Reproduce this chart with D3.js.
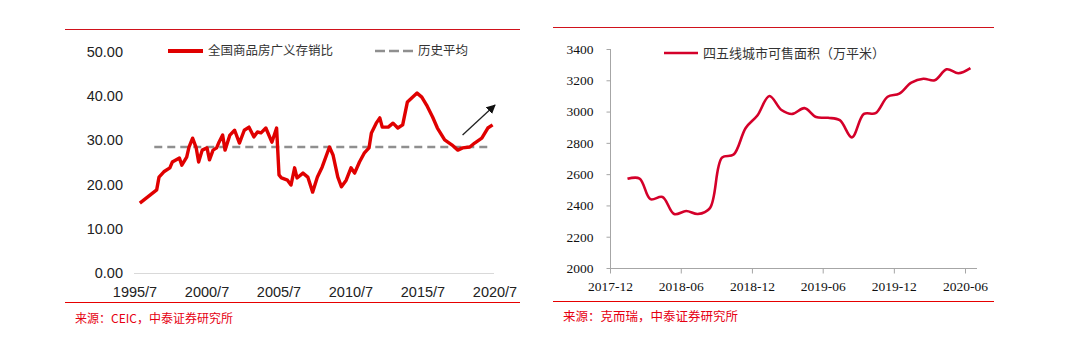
<!DOCTYPE html>
<html><head><meta charset="utf-8">
<script src="https://cdn.jsdelivr.net/npm/d3@7"></script>
<style>
html,body{margin:0;padding:0;background:#fff;}
svg{display:block;}
.narrow{font-family:"Liberation Sans Narrow","Arial Narrow","Liberation Sans",sans-serif;font-stretch:condensed;}
.serif{font-family:"Liberation Serif","DejaVu Serif",serif;}
.cjk{font-family:"Noto Sans CJK SC",sans-serif;}
</style></head>
<body>
<svg id="c" width="1079" height="347"></svg>
<script>
// ---------- Left chart data ----------
const leftDates = ["1995-11","1997-01","1997-03","1997-07","1997-12","1998-02","1998-08","1998-10","1999-02","1999-04","1999-07","1999-10","1999-12","2000-03","2000-07","2000-09","2000-12","2001-03","2001-05","2001-08","2001-10","2002-02","2002-06","2002-10","2003-02","2003-06","2003-10","2004-01","2004-04","2004-08","2005-01","2005-05","2005-07","2005-09","2006-02","2006-05","2006-08","2006-10","2007-03","2007-07","2007-11","2008-03","2008-07","2009-01","2009-04","2009-08","2009-11","2010-03","2010-07","2010-10","2011-02","2011-06","2011-10","2011-12","2012-04","2012-07","2012-09","2013-02","2013-06","2013-10","2014-02","2014-06","2015-02","2015-06","2015-10","2016-03","2016-07","2017-01","2017-07","2017-12","2018-04","2018-10","2019-02","2019-08","2020-01","2020-05"];
const leftValues = [15.8,18.8,21.7,22.9,23.8,25.1,26.0,24.4,26.2,28.5,30.5,28.3,25.1,27.8,28.3,25.6,27.8,28.3,29.6,31.2,27.8,31.2,32.3,29.4,32.3,33.0,30.8,31.9,31.7,32.8,29.6,32.8,22.2,21.5,21.0,19.9,23.8,21.5,22.6,21.7,18.3,21.7,24.0,28.5,26.7,21.7,19.5,21.0,23.8,22.6,25.1,27.1,28.3,31.7,33.9,35.1,33.0,33.0,33.9,32.8,33.5,38.7,40.7,39.8,38.0,35.3,32.8,30.1,29.0,27.8,28.3,28.5,29.4,30.5,32.8,33.5];
const leftAverage = 28.5;
const leftAvgRange = ["1996-11","2020-04"];
const leftYTicks = [0,10,20,30,40,50];
const leftXTicks = ["1995-07","2000-07","2005-07","2010-07","2015-07","2020-07"];
const leftSeriesName = "全国商品房广义存销比";
const leftAvgName = "历史平均";
const leftSource = "来源：CEIC，中泰证券研究所";
const arrowFrom = ["2018-04", 31.2];
const arrowTo = ["2020-07", 38.0];

// ---------- Right chart data ----------
const rightMonths = ["2018-01","2018-02","2018-03","2018-04","2018-05","2018-06","2018-07","2018-08","2018-09","2018-10","2018-11","2018-12","2019-01","2019-02","2019-03","2019-04","2019-05","2019-06","2019-07","2019-08","2019-09","2019-10","2019-11","2019-12","2020-01","2020-02","2020-03","2020-04","2020-05","2020-06"];
const rightValues = [2570,2572,2440,2454,2345,2364,2345,2383,2705,2725,2895,2975,3100,3010,2985,3022,2965,2960,2945,2835,2985,2990,3095,3115,3185,3210,3200,3270,3245,3278];
const rightYTicks = [2000,2200,2400,2600,2800,3000,3200,3400];
const rightXTicks = ["2017-12","2018-06","2018-12","2019-06","2019-12","2020-06"];
const rightSeriesName = "四五线城市可售面积（万平米）";
const rightSource = "来源：克而瑞，中泰证券研究所";

const svg = d3.select("#c");
const pm = d3.timeParse("%Y-%m");
const pd = d3.timeParse("%Y-%m-%d");

// ================= LEFT =================
{
  const g = svg.append("g");
  const x = d3.scaleTime().domain([pm("1995-07"), pm("2020-07")]).range([135, 495]);
  const y = d3.scaleLinear().domain([0, 50]).range([273, 52]);

  g.append("line").attr("x1",65).attr("x2",520).attr("y1",29.5).attr("y2",29.5).attr("stroke","#d0121b").attr("stroke-width",1);
  g.append("line").attr("x1",65).attr("x2",520).attr("y1",302.5).attr("y2",302.5).attr("stroke","#e60000").attr("stroke-width",1.2);

  g.selectAll(".yl").data(leftYTicks).join("text")
    .attr("class","narrow").attr("x",123).attr("y",d=>y(d)).attr("dy","0.35em")
    .attr("text-anchor","end").attr("font-size",14.5).attr("fill","#222")
    .text(d=>d3.format(".2f")(d));

  g.append("line").attr("x1",134).attr("x2",494).attr("y1",273.5).attr("y2",273.5).attr("stroke","#d9d9d9").attr("stroke-width",1);
  g.selectAll(".xl").data(leftXTicks).join("text")
    .attr("class","narrow").attr("x",d=>x(pm(d))).attr("y",292).attr("dy","0.35em")
    .attr("text-anchor","middle").attr("font-size",14.5).attr("fill","#222")
    .text(d=>d.replace("-0","/").replace("-","/"));

  g.append("line")
    .attr("x1",x(pm(leftAvgRange[0]))).attr("x2",x(pm(leftAvgRange[1])))
    .attr("y1",y(leftAverage)).attr("y2",y(leftAverage))
    .attr("stroke","#8f8f8f").attr("stroke-width",2.6).attr("stroke-dasharray","8,5");

  const data = leftDates.map((d,i)=>({d:pm(d), v:leftValues[i]}));
  g.append("path").datum(data)
    .attr("d", d3.line().x(p=>x(p.d)).y(p=>y(p.v)).curve(d3.curveLinear))
    .attr("fill","none").attr("stroke","#e00000").attr("stroke-width",3.4).attr("stroke-linejoin","round");

  svg.append("defs").append("marker").attr("id","ah").attr("viewBox","0 0 10 10")
    .attr("refX",9).attr("refY",5).attr("markerWidth",7).attr("markerHeight",7).attr("orient","auto")
    .append("path").attr("d","M0,0L10,5L0,10z").attr("fill","#111");
  g.append("line")
    .attr("x1",x(pm(arrowFrom[0]))).attr("y1",y(arrowFrom[1]))
    .attr("x2",x(pm(arrowTo[0]))).attr("y2",y(arrowTo[1]))
    .attr("stroke","#222").attr("stroke-width",1.3).attr("marker-end","url(#ah)");

  g.append("line").attr("x1",168).attr("x2",203).attr("y1",51).attr("y2",51).attr("stroke","#e00000").attr("stroke-width",4);
  g.append("text").attr("class","cjk").attr("x",208).attr("y",51).attr("dy","0.35em").attr("font-size",12.5).attr("fill","#333").text(leftSeriesName);
  g.append("line").attr("x1",375).attr("x2",413).attr("y1",51).attr("y2",51).attr("stroke","#8f8f8f").attr("stroke-width",2.6).attr("stroke-dasharray","10,4");
  g.append("text").attr("class","cjk").attr("x",418).attr("y",51).attr("dy","0.35em").attr("font-size",12.5).attr("fill","#333").text(leftAvgName);

  g.append("text").attr("class","cjk").attr("x",75).attr("y",319).attr("dy","0.35em").attr("font-size",12).attr("fill","#e60012").text(leftSource);
}

// ================= RIGHT =================
{
  const g = svg.append("g");
  const x = d3.scaleTime().domain([pd("2017-12-01"), pd("2020-06-01")]).range([610, 965]);
  const y = d3.scaleLinear().domain([2000, 3400]).range([268, 49]);

  g.append("line").attr("x1",553).attr("x2",994).attr("y1",27.5).attr("y2",27.5).attr("stroke","#d0121b").attr("stroke-width",1);
  g.append("line").attr("x1",553).attr("x2",994).attr("y1",301.5).attr("y2",301.5).attr("stroke","#e60000").attr("stroke-width",1.2);

  const ya = g.append("g").attr("transform","translate(610.5,0)")
    .call(d3.axisLeft(y).tickValues(rightYTicks).tickSize(4).tickPadding(13).tickFormat(d3.format("d")));
  ya.select(".domain").attr("stroke","#a6a6a6").attr("d","M-0,49V268.5");
  ya.selectAll(".tick line").attr("stroke","#a6a6a6");
  ya.selectAll(".tick text").attr("class","serif").attr("font-size",13.5).attr("fill","#111");

  const xa = g.append("g").attr("transform","translate(0,268.5)")
    .call(d3.axisBottom(x).tickValues(rightXTicks.map(d=>pm(d))).tickSize(5).tickPadding(8).tickFormat(d3.timeFormat("%Y-%m")));
  xa.select(".domain").attr("stroke","#a6a6a6").attr("d","M610,0H977");
  xa.selectAll(".tick line").attr("stroke","#a6a6a6");
  xa.selectAll(".tick text").attr("class","serif").attr("font-size",13.5).attr("fill","#111");

  const data = rightMonths.map((m,i)=>({d:pd(m+"-15"), v:rightValues[i]}));
  g.append("path").datum(data)
    .attr("d", d3.line().x(p=>x(p.d)).y(p=>y(p.v)).curve(d3.curveCatmullRom.alpha(0.5)))
    .attr("fill","none").attr("stroke","#d4002a").attr("stroke-width",2.6).attr("stroke-linejoin","round");

  g.append("line").attr("x1",664).attr("x2",698).attr("y1",53).attr("y2",53).attr("stroke","#d4002a").attr("stroke-width",2.6);
  g.append("text").attr("class","cjk").attr("x",703).attr("y",53).attr("dy","0.35em").attr("font-size",13).attr("fill","#333").text(rightSeriesName);

  g.append("text").attr("class","cjk").attr("x",563).attr("y",317).attr("dy","0.35em").attr("font-size",12.5).attr("fill","#e60012").text(rightSource);
}
</script>
</body></html>
